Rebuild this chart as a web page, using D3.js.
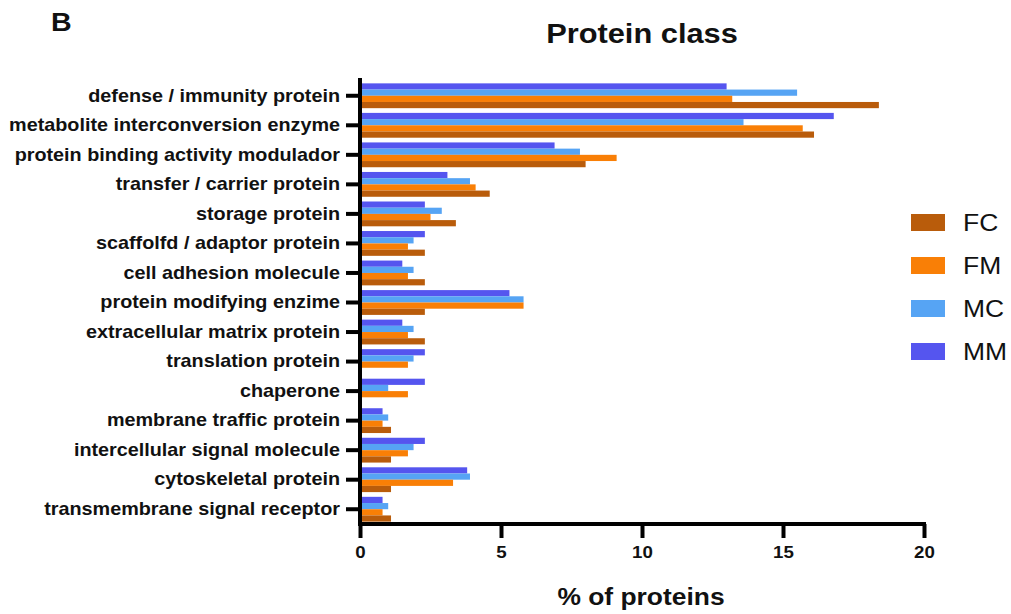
<!DOCTYPE html>
<html>
<head>
<meta charset="utf-8">
<script src="https://cdn.jsdelivr.net/npm/d3@7"></script>
<style>
  html, body { margin: 0; padding: 0; background: #fff; }
  svg { display: block; font-family: "Liberation Sans", Arial, sans-serif; }
</style>
</head>
<body>
<svg id="chart" width="1011" height="614"></svg>
<script>
// Protein class categories, top to bottom
const categories = [
  "defense / immunity protein",
  "metabolite interconversion enzyme",
  "protein binding activity modulador",
  "transfer / carrier protein",
  "storage protein",
  "scaffolfd / adaptor protein",
  "cell adhesion molecule",
  "protein modifying enzime",
  "extracellular matrix protein",
  "translation protein",
  "chaperone",
  "membrane traffic protein",
  "intercellular signal molecule",
  "cytoskeletal protein",
  "transmembrane signal receptor"
];

// Percentage of proteins per group
const MM = [13.0, 16.8, 6.9, 3.1, 2.3, 2.3, 1.5, 5.3, 1.5, 2.3, 2.3, 0.8, 2.3, 3.8, 0.8];
const MC = [15.5, 13.6, 7.8, 3.9, 2.9, 1.9, 1.9, 5.8, 1.9, 1.9, 1.0, 1.0, 1.9, 3.9, 1.0];
const FM = [13.2, 15.7, 9.1, 4.1, 2.5, 1.7, 1.7, 5.8, 1.7, 1.7, 1.7, 0.8, 1.7, 3.3, 0.8];
const FC = [18.4, 16.1, 8.0, 4.6, 3.4, 2.3, 2.3, 2.3, 2.3, 0.0, 0.0, 1.1, 1.1, 1.1, 1.1];

// Bar order within each group (top to bottom)
const seriesOrder = ["MM", "MC", "FM", "FC"];
const seriesValues = { MM, MC, FM, FC };
// Legend order
const legendOrder = ["FC", "FM", "MC", "MM"];
const colors = { FC: "#b95c0b", FM: "#f97f06", MC: "#56a4f4", MM: "#5555ef" };

const xTicks = [0, 5, 10, 15, 20];

// Text in this figure is set slightly wide
const SX = 1.1;

const svg = d3.select("#chart");
const margin = { left: 360, right: 87, top: 81, bottom: 90 };
const width = 1011, height = 614;
const x0 = margin.left, x1 = width - margin.right;
const y0 = margin.top, y1 = height - margin.bottom;

const x = d3.scaleLinear().domain([0, 20]).range([x0, x1]);
const y = d3.scaleBand().domain(categories).range([y0, y1]).paddingInner(0.16).paddingOuter(0.08);
const yInner = d3.scaleBand().domain(seriesOrder).range([0, y.bandwidth()]);

// Bars
const rows = categories.map((c, i) => ({ c, vals: seriesOrder.map(s => ({ s, v: seriesValues[s][i] })) }));
const g = svg.append("g");
g.selectAll("g.row").data(rows).join("g")
  .attr("class", "row")
  .attr("transform", d => `translate(0,${y(d.c)})`)
  .selectAll("rect").data(d => d.vals).join("rect")
  .attr("x", x(0))
  .attr("y", d => yInner(d.s))
  .attr("width", d => x(d.v) - x(0))
  .attr("height", yInner.bandwidth())
  .attr("fill", d => colors[d.s]);

// Y axis
const yAxis = svg.append("g")
  .attr("transform", `translate(${x0},0)`)
  .call(d3.axisLeft(y).tickSize(14).tickPadding(6));
yAxis.select(".domain").attr("stroke", "#000").attr("stroke-width", 4)
  .attr("d", `M0,${y0 - 3}V${y1 + 2}`);
yAxis.selectAll(".tick line").attr("stroke", "#000").attr("stroke-width", 4);
yAxis.selectAll(".tick text")
  .attr("x", -20 / SX)
  .attr("transform", `scale(${SX},1)`)
  .attr("fill", "#111").style("font-size", "18px").style("font-weight", "bold")
  .style("font-family", "Liberation Sans, Arial, sans-serif");

// X axis
const xAxis = svg.append("g")
  .attr("transform", `translate(0,${y1})`)
  .call(d3.axisBottom(x).tickValues(xTicks).tickSize(14).tickPadding(8));
xAxis.select(".domain").attr("stroke", "#000").attr("stroke-width", 4)
  .attr("d", `M${x0 - 2},0H${x1 + 2}`);
xAxis.selectAll(".tick line").attr("stroke", "#000").attr("stroke-width", 4);
xAxis.selectAll(".tick text")
  .attr("transform", `scale(${SX},1)`)
  .attr("fill", "#111").style("font-size", "17px").style("font-weight", "bold")
  .style("font-family", "Liberation Sans, Arial, sans-serif");

// Wide text helper: draws text centred/anchored at (cx, cy) with horizontal stretch
function wideText(cx, cy, anchor, size, weight, str) {
  return svg.append("text")
    .attr("transform", `translate(${cx},${cy}) scale(${SX},1)`)
    .attr("text-anchor", anchor)
    .style("font-size", size + "px").style("font-weight", weight)
    .attr("fill", "#111").text(str);
}

// Titles
wideText(51, 31, "start", 26, "bold", "B");
wideText(642, 43, "middle", 28, "bold", "Protein class");
wideText(641, 605, "middle", 24, "bold", "% of proteins");

// Legend
const legend = svg.append("g").attr("transform", "translate(911,214)");
const li = legend.selectAll("g").data(legendOrder).join("g")
  .attr("transform", (d, i) => `translate(0,${i * 43})`);
li.append("rect").attr("width", 34).attr("height", 17).attr("fill", d => colors[d]);
li.append("text")
  .attr("transform", `translate(52,17) scale(1.15,1)`)
  .style("font-size", "23px").attr("fill", "#111").text(d => d);
</script>
</body>
</html>
